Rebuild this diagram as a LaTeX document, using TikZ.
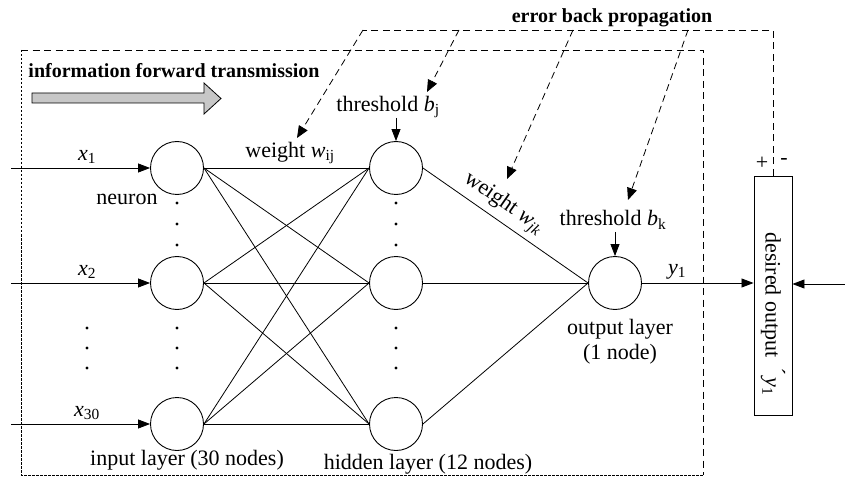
\documentclass[tikz,border=0pt]{standalone}
\usepackage{fontspec}
\setmainfont{Liberation Serif}
\usetikzlibrary{arrows.meta}
\begin{document}
\begin{tikzpicture}[x=1pt,y=-1pt,
 neuron/.style={circle,draw,line width=0.9pt,minimum size=53pt,inner sep=0pt},
 lbl/.style={font=\fontsize{22}{25}\selectfont,inner sep=0pt},
 blbl/.style={font=\fontsize{20}{24}\selectfont\bfseries,inner sep=0pt},
 conn/.style={line width=0.8pt},
 arr/.style={line width=0.8pt,-{Triangle[length=12pt,width=9pt]}},
 dline/.style={line width=0.8pt,dash pattern=on 7pt off 4.5pt},
 darr/.style={dline,-{Triangle[length=12pt,width=10pt]}},
 fdash/.style={line width=0.6pt,dash pattern=on 2.5pt off 1.5pt}]
\useasboundingbox (0,0) rectangle (845,478);

% dashed network frame
\draw[dline] (21,50) -- (703,50) -- (703,475);
\draw[fdash] (21,50) -- (21,475) -- (703,475);

% forward transmission
\node[blbl] (fwd) at (174,71) {information forward transmission};
\filldraw[fill=black!22,line width=0.8pt] (32,93) -- (204,93) -- (204,83) -- (221,98.5) -- (204,114) -- (204,103) -- (32,103) -- cycle;

% neurons
\node[neuron] (i1) at (177,168) {};
\node[neuron] (i2) at (177,283) {};
\node[neuron] (i3) at (177,424) {};
\node[neuron] (h1) at (396,168) {};
\node[neuron] (h2) at (396,283) {};
\node[neuron] (h3) at (396,424) {};
\node[neuron] (o) at (615,283) {};

% inputs
\coordinate (s1) at (11,168);
\coordinate (s2) at (11,283);
\coordinate (s3) at (11,424);
\draw[arr] (s1) -- (i1);
\draw[arr] (s2) -- (i2);
\draw[arr] (s3) -- (i3);
\node[lbl] (x1) at (87,157) {\textit{x}\textsubscript{1}};
\node[lbl] (x2) at (87,272) {\textit{x}\textsubscript{2}};
\node[lbl] (x3) at (87,413) {\textit{x}\textsubscript{30}};

% connections
\foreach \a in {i1,i2,i3}
  \foreach \b in {h1,h2,h3}
    \draw[conn] (\a.east) -- (\b.west);
\draw[conn] (h1.east) -- node[lbl,sloped,above=5pt,pos=0.43] (wjk) {weight \textit{w}\textsubscript{\textit{jk}}} (o.west);
\draw[conn] (h2.east) -- (o.west);
\draw[conn] (h3.east) -- (o.west);

% dots
\foreach \y in {203,224,245,328,348,368} {
  \fill (177,\y) circle (1.6);
  \fill (396,\y) circle (1.6);
}
\foreach \y in {328,348,368} \fill (87,\y) circle (1.6);

% labels
\node[lbl] (wij) at (290,153) {weight \textit{w}\textsubscript{ij}};
\node[lbl] (neu) at (127,199) {neuron};
\node[lbl] (inl) at (187,460) {input layer (30 nodes)};
\node[lbl] (hidl) at (428,464) {hidden layer (12 nodes)};
\node[lbl,align=center] (outl) at (620,342) {output layer\\(1 node)};

% thresholds
\node[lbl] (thj) at (388,107) {threshold \textit{b}\textsubscript{j}};
\coordinate (thja) at (396,118);
\draw[arr] (thja) -- (h1.north);
\node[lbl] (thk) at (613,220) {threshold \textit{b}\textsubscript{k}};
\coordinate (thka) at (615,232);
\draw[arr] (thka) -- (o.north);

% desired output box
\node[draw,line width=0.9pt,minimum width=38pt,minimum height=239pt,inner sep=0pt] (box) at (773,295.5) {};
\node[lbl,rotate=-90] (dtext) at (773,314) {desired output \ \'{}\,\textit{y}\textsubscript{1}};
\draw[arr] (o.east) -- (o.east -| box.west);
\node[lbl] (y1) at (677,272) {\textit{y}\textsubscript{1}};
\coordinate (rin) at (845,284);
\draw[arr] (rin) -- (rin -| box.east);
\node[lbl] (plus) at (762,163) {+};
\node[lbl] (minus) at (784,161) {-};

% error back propagation
\node[blbl] (ebp) at (612,18) {error back propagation};
\coordinate (c1) at (363,30);
\coordinate (c2) at (773,30);
\draw[dline] (box.north) -- (c2) -- (c1);
\coordinate (t1) at (297,138);
\coordinate (c3) at (459,30);
\coordinate (t3) at (427,92);
\coordinate (c4) at (573,30);
\coordinate (t4) at (507,179);
\coordinate (c5) at (688,30);
\coordinate (t5) at (628,200);
\draw[darr] (c1) -- (t1);
\draw[darr] (c3) -- (t3);
\draw[darr] (c4) -- (t4);
\draw[darr] (c5) -- (t5);
\end{tikzpicture}
\end{document}
